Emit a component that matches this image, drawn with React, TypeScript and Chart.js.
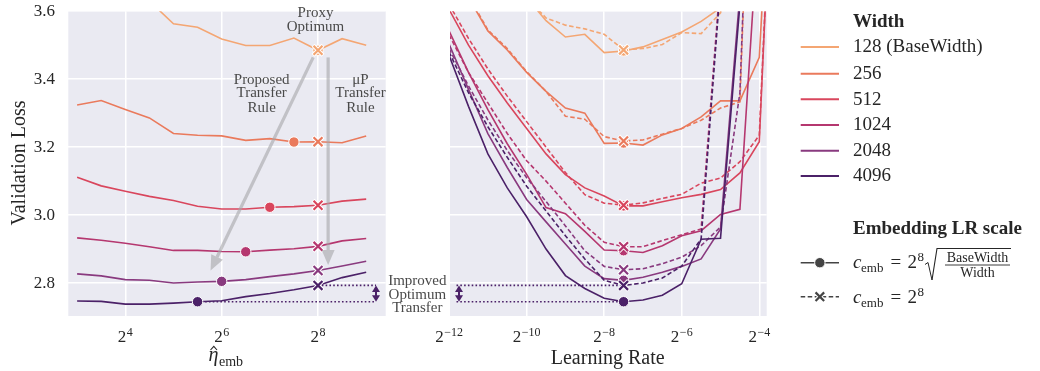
import React, { useEffect, useRef } from "react";
import { Chart, registerables } from "chart.js";

Chart.register(...registerables);

// ---------------- data ----------------
const WIDTH_LABELS = ["128 (BaseWidth)", "256", "512", "1024", "2048", "4096"];
const COLORS = ["#f4a673", "#ea7a5c", "#d9465d", "#b5376f", "#893a7f", "#4b2168"];

// left panel: x = log2(embedding LR multiplier)
const embExps = [3, 3.5, 4, 4.5, 5, 5.5, 6, 6.5, 7, 7.5, 8, 8.5, 9];
const emb128 = [3.78, 3.72, 3.68, 3.63, 3.563, 3.553, 3.518, 3.499, 3.499, 3.521, 3.485, 3.519, 3.5];
const emb256 = [3.324, 3.337, 3.311, 3.286, 3.24, 3.235, 3.233, 3.22, 3.225, 3.215, 3.216, 3.213, 3.233];
const emb512 = [3.111, 3.086, 3.07, 3.055, 3.043, 3.026, 3.018, 3.018, 3.023, 3.025, 3.029, 3.041, 3.047];
const emb1024 = [2.933, 2.926, 2.917, 2.907, 2.896, 2.896, 2.893, 2.892, 2.897, 2.901, 2.908, 2.924, 2.931];
const emb2048 = [2.827, 2.821, 2.81, 2.808, 2.8, 2.803, 2.805, 2.81, 2.819, 2.827, 2.837, 2.85, 2.864];
const emb4096 = [2.747, 2.746, 2.738, 2.738, 2.741, 2.745, 2.748, 2.76, 2.769, 2.78, 2.793, 2.816, 2.832];
const embLoss = [emb128, emb256, emb512, emb1024, emb2048, emb4096];
const proposedOptExp = [8, 7.5, 7, 6.5, 6, 5.5];
const muPOptExp = 8;

// right panel: x = log2(learning rate)
const lrExps = [-12, -11.5, -11, -10.5, -10, -9.5, -9, -8.5, -8, -7.5, -7, -6.5, -6, -5.5, -5, -4.5, -4, -3.5];
const lr128Solid = [4.2, 4.0, 3.85, 3.74, 3.64, 3.572, 3.524, 3.532, 3.478, 3.483, 3.495, 3.517, 3.539, 3.57, 3.61, 3.8, 4.2, 4.6];
const lr128Dashed = [4.2, 4.0, 3.85, 3.74, 3.64, 3.58, 3.559, 3.548, 3.532, 3.486, 3.49, 3.502, 3.537, 3.534, 3.595, 3.8, 4.2, 4.6];
const lr256Solid = [3.78, 3.64, 3.542, 3.486, 3.42, 3.364, 3.315, 3.3, 3.211, 3.212, 3.206, 3.236, 3.255, 3.289, 3.336, 3.336, 3.464, 4.5];
const lr256Dashed = [3.78, 3.645, 3.545, 3.49, 3.422, 3.364, 3.291, 3.282, 3.231, 3.218, 3.221, 3.238, 3.255, 3.279, 3.315, 3.333, 4.9, 5.2];
const lr512Solid = [3.605, 3.5, 3.41, 3.33, 3.255, 3.18, 3.119, 3.08, 3.056, 3.027, 3.027, 3.039, 3.051, 3.061, 3.075, 3.124, 3.216, 4.5];
const lr512Dashed = [3.62, 3.52, 3.43, 3.35, 3.275, 3.2, 3.125, 3.06, 3.035, 3.029, 3.036, 3.049, 3.061, 3.094, 3.109, 3.157, 3.235, 4.5];
const lr1024Solid = [3.542, 3.42, 3.31, 3.21, 3.12, 3.022, 3.004, 2.952, 2.897, 2.895, 2.89, 2.91, 2.939, 2.954, 3.002, 3.017, 3.9, 5.0];
const lr1024Dashed = [3.53, 3.42, 3.33, 3.24, 3.16, 3.1, 3.035, 2.97, 2.92, 2.907, 2.907, 2.925, 2.942, 2.959, 3.7, 4.5, 5.0, 5.5];
const lr2048Solid = [3.503, 3.37, 3.24, 3.14, 3.046, 2.98, 2.915, 2.85, 2.813, 2.808, 2.817, 2.832, 2.849, 2.871, 2.959, 3.65, 4.5, 5.0];
const lr2048Dashed = [3.49, 3.38, 3.28, 3.19, 3.11, 3.04, 2.968, 2.895, 2.849, 2.839, 2.842, 2.857, 2.876, 2.91, 2.965, 3.36, 4.9, 5.5];
const lr4096Solid = [3.47, 3.32, 3.18, 3.08, 2.995, 2.9, 2.822, 2.784, 2.755, 2.745, 2.75, 2.764, 2.798, 2.929, 2.932, 3.62, 4.5, 5.0];
const lr4096Dashed = [3.48, 3.36, 3.26, 3.17, 3.085, 3.012, 2.939, 2.871, 2.808, 2.793, 2.8, 2.815, 2.85, 2.93, 3.68, 4.5, 5.0, 5.5];
const lrSolid = [lr128Solid, lr256Solid, lr512Solid, lr1024Solid, lr2048Solid, lr4096Solid];
const lrDashed = [lr128Dashed, lr256Dashed, lr512Dashed, lr1024Dashed, lr2048Dashed, lr4096Dashed];
const lrOptExp = -7.5;

const yTicks = [2.8, 3.0, 3.2, 3.4, 3.6];
const yTickLabels = ["2.8", "3.0", "3.2", "3.4", "3.6"];
const embTicks = [4, 6, 8];
const lrTicks = [-12, -10, -8, -6, -4];

// ---------------- helpers ----------------
const FONT = '"Liberation Serif", "Times New Roman", serif';
const TEXT = "#262626";
const NOTE = "#4a4a4a";
const BG = "#eaeaf2";
const Y_MIN = 2.703;
const Y_MAX = 3.6;

const pts = (xs: number[], ys: number[]) => xs.map((x, i) => ({ x, y: ys[i] }));

function axis(min: number, max: number, ticks: number[]) {
  return {
    type: "linear" as const,
    min,
    max,
    afterBuildTicks: (s: any) => {
      s.ticks = ticks.map((v) => ({ value: v }));
    },
    ticks: { display: false },
    grid: { color: "#ffffff", lineWidth: 1.5, drawTicks: false },
    border: { display: false },
  };
}

function lineDs(data: any, color: string, order: number, dashed: boolean) {
  return {
    type: "line" as const,
    data,
    borderColor: color,
    borderWidth: 1.6,
    borderDash: dashed ? [4.5, 2.5] : [],
    pointRadius: 0,
    tension: 0,
    fill: false,
    order,
  };
}

function circleDs(x: number, y: number, color: string) {
  return {
    type: "line" as const,
    data: [{ x, y }],
    showLine: false,
    pointStyle: "circle",
    pointRadius: 5.2,
    pointBackgroundColor: color,
    pointBorderColor: "#ffffff",
    pointBorderWidth: 1,
    order: 2,
  };
}

function crossDs(x: number, y: number, color: string) {
  return [
    {
      type: "line" as const,
      data: [{ x, y }],
      showLine: false,
      pointStyle: "crossRot",
      pointRadius: 7,
      pointBorderColor: "#ffffff",
      pointBorderWidth: 4.2,
      order: 1,
    },
    {
      type: "line" as const,
      data: [{ x, y }],
      showLine: false,
      pointStyle: "crossRot",
      pointRadius: 6.3,
      pointBorderColor: color,
      pointBorderWidth: 2.2,
      order: 0,
    },
  ];
}

function drawPow(ctx: CanvasRenderingContext2D, cx: number, baseY: number, base: string, exp: string) {
  ctx.font = `17px ${FONT}`;
  const wb = ctx.measureText(base).width;
  ctx.font = `12px ${FONT}`;
  const we = ctx.measureText(exp).width;
  const x0 = cx - (wb + we + 0.5) / 2;
  ctx.fillStyle = TEXT;
  ctx.textAlign = "left";
  ctx.textBaseline = "alphabetic";
  ctx.font = `17px ${FONT}`;
  ctx.fillText(base, x0, baseY);
  ctx.font = `12px ${FONT}`;
  ctx.fillText(exp, x0 + wb + 0.5, baseY - 6.5);
}

function arrow(ctx: CanvasRenderingContext2D, x1: number, y1: number, x2: number, y2: number, color: string, lw: number, hl: number, hw: number) {
  const a = Math.atan2(y2 - y1, x2 - x1);
  const bx = x2 - hl * Math.cos(a);
  const by = y2 - hl * Math.sin(a);
  ctx.save();
  ctx.setLineDash([]);
  ctx.strokeStyle = color;
  ctx.lineWidth = lw;
  ctx.beginPath();
  ctx.moveTo(x1, y1);
  ctx.lineTo(bx, by);
  ctx.stroke();
  ctx.fillStyle = color;
  ctx.beginPath();
  ctx.moveTo(x2, y2);
  ctx.lineTo(bx + hw * Math.sin(a), by - hw * Math.cos(a));
  ctx.lineTo(bx - hw * Math.sin(a), by + hw * Math.cos(a));
  ctx.closePath();
  ctx.fill();
  ctx.restore();
}

function doubleArrow(ctx: CanvasRenderingContext2D, x: number, yTop: number, yBot: number, color: string) {
  const hl = 5.5;
  const hw = 4;
  ctx.save();
  ctx.strokeStyle = color;
  ctx.fillStyle = color;
  ctx.lineWidth = 2;
  ctx.setLineDash([]);
  ctx.beginPath();
  ctx.moveTo(x, yTop + hl);
  ctx.lineTo(x, yBot - hl);
  ctx.stroke();
  ctx.beginPath();
  ctx.moveTo(x, yTop);
  ctx.lineTo(x - hw, yTop + hl + 1);
  ctx.lineTo(x + hw, yTop + hl + 1);
  ctx.closePath();
  ctx.fill();
  ctx.beginPath();
  ctx.moveTo(x, yBot);
  ctx.lineTo(x - hw, yBot - hl - 1);
  ctx.lineTo(x + hw, yBot - hl - 1);
  ctx.closePath();
  ctx.fill();
  ctx.restore();
}

function dotted(ctx: CanvasRenderingContext2D, x1: number, x2: number, y: number, color: string) {
  ctx.save();
  ctx.strokeStyle = color;
  ctx.lineWidth = 1.6;
  ctx.setLineDash([1.6, 2.2]);
  ctx.beginPath();
  ctx.moveTo(x1, y);
  ctx.lineTo(x2, y);
  ctx.stroke();
  ctx.restore();
}

function centerText(ctx: CanvasRenderingContext2D, lines: string[], cx: number, ys: number[], size: number, color: string) {
  ctx.font = `${size}px ${FONT}`;
  ctx.fillStyle = color;
  ctx.textAlign = "center";
  ctx.textBaseline = "middle";
  lines.forEach((l, i) => ctx.fillText(l, cx, ys[i]));
}

function fillBg(chart: any) {
  const { ctx, chartArea: a } = chart;
  ctx.save();
  ctx.fillStyle = BG;
  ctx.fillRect(a.left, a.top, a.right - a.left, a.bottom - a.top);
  ctx.restore();
}

function drawYLabels(ctx: CanvasRenderingContext2D, ys: any) {
  ctx.font = `17px ${FONT}`;
  ctx.fillStyle = TEXT;
  ctx.textAlign = "right";
  ctx.textBaseline = "middle";
  yTicks.forEach((v, i) => ctx.fillText(yTickLabels[i], 55, ys.getPixelForValue(v)));
}

// ---------------- left chart ----------------
function leftConfig(): any {
  const datasets: any[] = [];
  embLoss.forEach((vals, i) => {
    datasets.push(lineDs(pts(embExps, vals), COLORS[i], 20 - i, false));
  });
  embLoss.forEach((vals, i) => {
    const ci = embExps.indexOf(proposedOptExp[i]);
    datasets.push(circleDs(embExps[ci], vals[ci], COLORS[i]));
    const xi = embExps.indexOf(muPOptExp);
    datasets.push(...crossDs(embExps[xi], vals[xi], COLORS[i]));
  });

  const plugin = {
    id: "leftDeco",
    beforeDraw: (chart: any) => fillBg(chart),
    beforeDatasetsDraw: (chart: any) => {
      const { ctx, scales } = chart;
      const xs = scales.x;
      const ys = scales.y;
      const last = embLoss.length - 1;
      const xi = embExps.indexOf(muPOptExp);
      const ci = embExps.indexOf(proposedOptExp[last]);
      const yA = ys.getPixelForValue(emb4096[xi]);
      const yB = ys.getPixelForValue(emb4096[ci]);
      dotted(ctx, xs.getPixelForValue(embExps[xi]), 376, yA, COLORS[last]);
      dotted(ctx, xs.getPixelForValue(embExps[ci]), 376, yB, COLORS[last]);
      doubleArrow(ctx, 376, yA, yB, COLORS[last]);
    },
    afterDatasetsDraw: (chart: any) => {
      const { ctx, scales } = chart;
      const xs = scales.x;
      const ys = scales.y;
      const gray = "rgba(165,165,168,0.6)";
      arrow(ctx, xs.getPixelForValue(7.9), ys.getPixelForValue(3.464), xs.getPixelForValue(5.77), ys.getPixelForValue(2.837), gray, 3.2, 15, 6.5);
      arrow(ctx, xs.getPixelForValue(8.21), ys.getPixelForValue(3.464), xs.getPixelForValue(8.21), ys.getPixelForValue(2.853), gray, 3.2, 15, 6.5);
    },
    afterDraw: (chart: any) => {
      const { ctx, scales } = chart;
      const xs = scales.x;
      const ys = scales.y;
      ctx.save();
      drawYLabels(ctx, ys);
      embTicks.forEach((e) => drawPow(ctx, xs.getPixelForValue(e), 342, "2", String(e)));
      // axis titles
      ctx.save();
      ctx.translate(25, 163);
      ctx.rotate(-Math.PI / 2);
      ctx.font = `20px ${FONT}`;
      ctx.fillStyle = TEXT;
      ctx.textAlign = "center";
      ctx.textBaseline = "alphabetic";
      ctx.fillText("Validation Loss", 0, 0);
      ctx.restore();
      ctx.fillStyle = TEXT;
      ctx.textAlign = "left";
      ctx.textBaseline = "alphabetic";
      ctx.font = `italic 20px ${FONT}`;
      ctx.fillText("η", 208.5, 361);
      ctx.font = `14px ${FONT}`;
      ctx.fillText("emb", 219, 365.5);
      ctx.strokeStyle = TEXT;
      ctx.lineWidth = 1.1;
      ctx.beginPath();
      ctx.moveTo(210.5, 350);
      ctx.lineTo(213.8, 346.3);
      ctx.lineTo(217, 350);
      ctx.stroke();
      // annotations
      centerText(ctx, ["Proxy", "Optimum"], 315.5, [13.5, 27.3], 15, NOTE);
      centerText(ctx, ["Proposed", "Transfer", "Rule"], 261.7, [80, 93.5, 108], 15, NOTE);
      centerText(ctx, ["μP", "Transfer", "Rule"], 360.5, [80, 93.5, 108], 15, NOTE);
      ctx.restore();
    },
  };

  return {
    type: "line",
    data: { datasets },
    options: {
      animation: false,
      responsive: false,
      events: [],
      layout: { padding: { left: 68.3, right: 654.3, top: 8.3, bottom: 55 } },
      plugins: { legend: { display: false }, tooltip: { enabled: false } },
      scales: {
        x: axis(2.817, 9.405, embTicks),
        y: axis(Y_MIN, Y_MAX, yTicks),
      },
    },
    plugins: [plugin],
  };
}

// ---------------- right chart ----------------
function rightConfig(): any {
  const datasets: any[] = [];
  lrSolid.forEach((vals, i) => {
    datasets.push(lineDs(pts(lrExps, vals), COLORS[i], 20 - i, false));
    datasets.push(lineDs(pts(lrExps, lrDashed[i]), COLORS[i], 20 - i, true));
  });
  const oi = lrExps.indexOf(lrOptExp);
  lrSolid.forEach((vals, i) => {
    datasets.push(circleDs(lrExps[oi], vals[oi], COLORS[i]));
    datasets.push(...crossDs(lrExps[oi], lrDashed[i][oi], COLORS[i]));
  });

  const plugin = {
    id: "rightDeco",
    beforeDraw: (chart: any) => fillBg(chart),
    beforeDatasetsDraw: (chart: any) => {
      const { ctx, scales } = chart;
      const xs = scales.x;
      const ys = scales.y;
      const last = lrSolid.length - 1;
      const yA = ys.getPixelForValue(lr4096Dashed[oi]);
      const yB = ys.getPixelForValue(lr4096Solid[oi]);
      const xm = xs.getPixelForValue(lrExps[oi]);
      dotted(ctx, 456.5, xm, yA, COLORS[last]);
      dotted(ctx, 456.5, xm, yB, COLORS[last]);
      doubleArrow(ctx, 459, yA, yB, COLORS[last]);
    },
    afterDraw: (chart: any) => {
      const { ctx, scales } = chart;
      const xs = scales.x;
      ctx.save();
      lrTicks.forEach((e) => drawPow(ctx, xs.getPixelForValue(e), 342, "2", "\u2212" + String(-e)));
      ctx.font = `20px ${FONT}`;
      ctx.fillStyle = TEXT;
      ctx.textAlign = "center";
      ctx.textBaseline = "alphabetic";
      ctx.fillText("Learning Rate", 607.7, 363.5);
      centerText(ctx, ["Improved", "Optimum", "Transfer"], 417.3, [281, 294.7, 308.3], 15, NOTE);

      // legend
      const lx1 = 800.7;
      const lx2 = 839;
      const tx = 853;
      ctx.font = `bold 19px ${FONT}`;
      ctx.fillStyle = TEXT;
      ctx.textAlign = "left";
      ctx.textBaseline = "middle";
      ctx.fillText("Width", tx, 22.5);
      const ly = [47, 73.7, 99.3, 125, 150.7, 176];
      WIDTH_LABELS.forEach((lab, i) => {
        ctx.strokeStyle = COLORS[i];
        ctx.lineWidth = 2;
        ctx.setLineDash([]);
        ctx.beginPath();
        ctx.moveTo(lx1, ly[i]);
        ctx.lineTo(lx2, ly[i]);
        ctx.stroke();
        ctx.font = `19px ${FONT}`;
        ctx.fillStyle = TEXT;
        ctx.fillText(lab, tx, ly[i] + 0.5);
      });
      ctx.font = `bold 19px ${FONT}`;
      ctx.fillText("Embedding LR scale", tx, 229);

      const g = "#444444";
      const mx = (lx1 + lx2) / 2;
      // entry 1: solid + circle
      const y1 = 262.7;
      ctx.strokeStyle = g;
      ctx.lineWidth = 1.6;
      ctx.beginPath();
      ctx.moveTo(lx1, y1);
      ctx.lineTo(lx2, y1);
      ctx.stroke();
      ctx.fillStyle = g;
      ctx.strokeStyle = "#ffffff";
      ctx.lineWidth = 1;
      ctx.beginPath();
      ctx.arc(mx, y1, 5.2, 0, Math.PI * 2);
      ctx.fill();
      ctx.stroke();
      // entry 2: dashed + cross
      const y2 = 296.7;
      ctx.strokeStyle = g;
      ctx.lineWidth = 1.6;
      ctx.setLineDash([4.5, 2.5]);
      ctx.beginPath();
      ctx.moveTo(lx1, y2);
      ctx.lineTo(lx2, y2);
      ctx.stroke();
      ctx.setLineDash([]);
      const d = 4.3;
      ctx.strokeStyle = "#ffffff";
      ctx.lineWidth = 4.2;
      ctx.beginPath();
      ctx.moveTo(mx - d - 0.5, y2 - d - 0.5);
      ctx.lineTo(mx + d + 0.5, y2 + d + 0.5);
      ctx.moveTo(mx - d - 0.5, y2 + d + 0.5);
      ctx.lineTo(mx + d + 0.5, y2 - d - 0.5);
      ctx.stroke();
      ctx.strokeStyle = g;
      ctx.lineWidth = 2.2;
      ctx.beginPath();
      ctx.moveTo(mx - d, y2 - d);
      ctx.lineTo(mx + d, y2 + d);
      ctx.moveTo(mx - d, y2 + d);
      ctx.lineTo(mx + d, y2 - d);
      ctx.stroke();

      // math text entry 1
      ctx.fillStyle = TEXT;
      ctx.textBaseline = "alphabetic";
      ctx.textAlign = "left";
      const mathEq = (by: number) => {
        ctx.font = `italic 19px ${FONT}`;
        ctx.fillText("c", 853, by);
        ctx.font = `13px ${FONT}`;
        ctx.fillText("emb", 861, by + 4);
        ctx.font = `19px ${FONT}`;
        ctx.fillText("=", 890.5, by);
        ctx.fillText("2", 907.5, by);
        ctx.font = `13px ${FONT}`;
        ctx.fillText("8", 917.5, by - 7);
      };
      mathEq(268.3);
      // radical
      ctx.strokeStyle = TEXT;
      ctx.lineWidth = 1;
      ctx.beginPath();
      ctx.moveTo(925, 264.5);
      ctx.lineTo(928, 262.5);
      ctx.lineTo(932, 280);
      ctx.stroke();
      ctx.lineWidth = 1.1;
      ctx.beginPath();
      ctx.moveTo(932, 280);
      ctx.lineTo(937, 248.5);
      ctx.lineTo(1011, 248.5);
      ctx.stroke();
      ctx.lineWidth = 0.9;
      ctx.beginPath();
      ctx.moveTo(945, 265);
      ctx.lineTo(1010, 265);
      ctx.stroke();
      ctx.font = `14px ${FONT}`;
      ctx.textAlign = "center";
      ctx.fillText("BaseWidth", 977.5, 262);
      ctx.fillText("Width", 977.5, 276.5);
      ctx.textAlign = "left";
      mathEq(302.7);
      ctx.restore();
    },
  };

  return {
    type: "line",
    data: { datasets },
    options: {
      animation: false,
      responsive: false,
      events: [],
      layout: { padding: { left: 450, right: 273.3, top: 8.3, bottom: 55 } },
      plugins: { legend: { display: false }, tooltip: { enabled: false } },
      scales: {
        x: axis(-11.977, -3.809, lrTicks),
        y: axis(Y_MIN, Y_MAX, yTicks),
      },
    },
    plugins: [plugin],
  };
}

export default function App() {
  const leftRef = useRef<HTMLCanvasElement>(null);
  const rightRef = useRef<HTMLCanvasElement>(null);
  useEffect(() => {
    const left = new Chart(leftRef.current as HTMLCanvasElement, leftConfig());
    const right = new Chart(rightRef.current as HTMLCanvasElement, rightConfig());
    return () => {
      left.destroy();
      right.destroy();
    };
  }, []);
  return (
    <div style={{ position: "absolute", left: 0, top: 0, width: 1040, height: 371, background: "#ffffff" }}>
      <canvas ref={leftRef} width={1040} height={371} style={{ position: "absolute", left: 0, top: 0 }} />
      <canvas ref={rightRef} width={1040} height={371} style={{ position: "absolute", left: 0, top: 0 }} />
    </div>
  );
}
